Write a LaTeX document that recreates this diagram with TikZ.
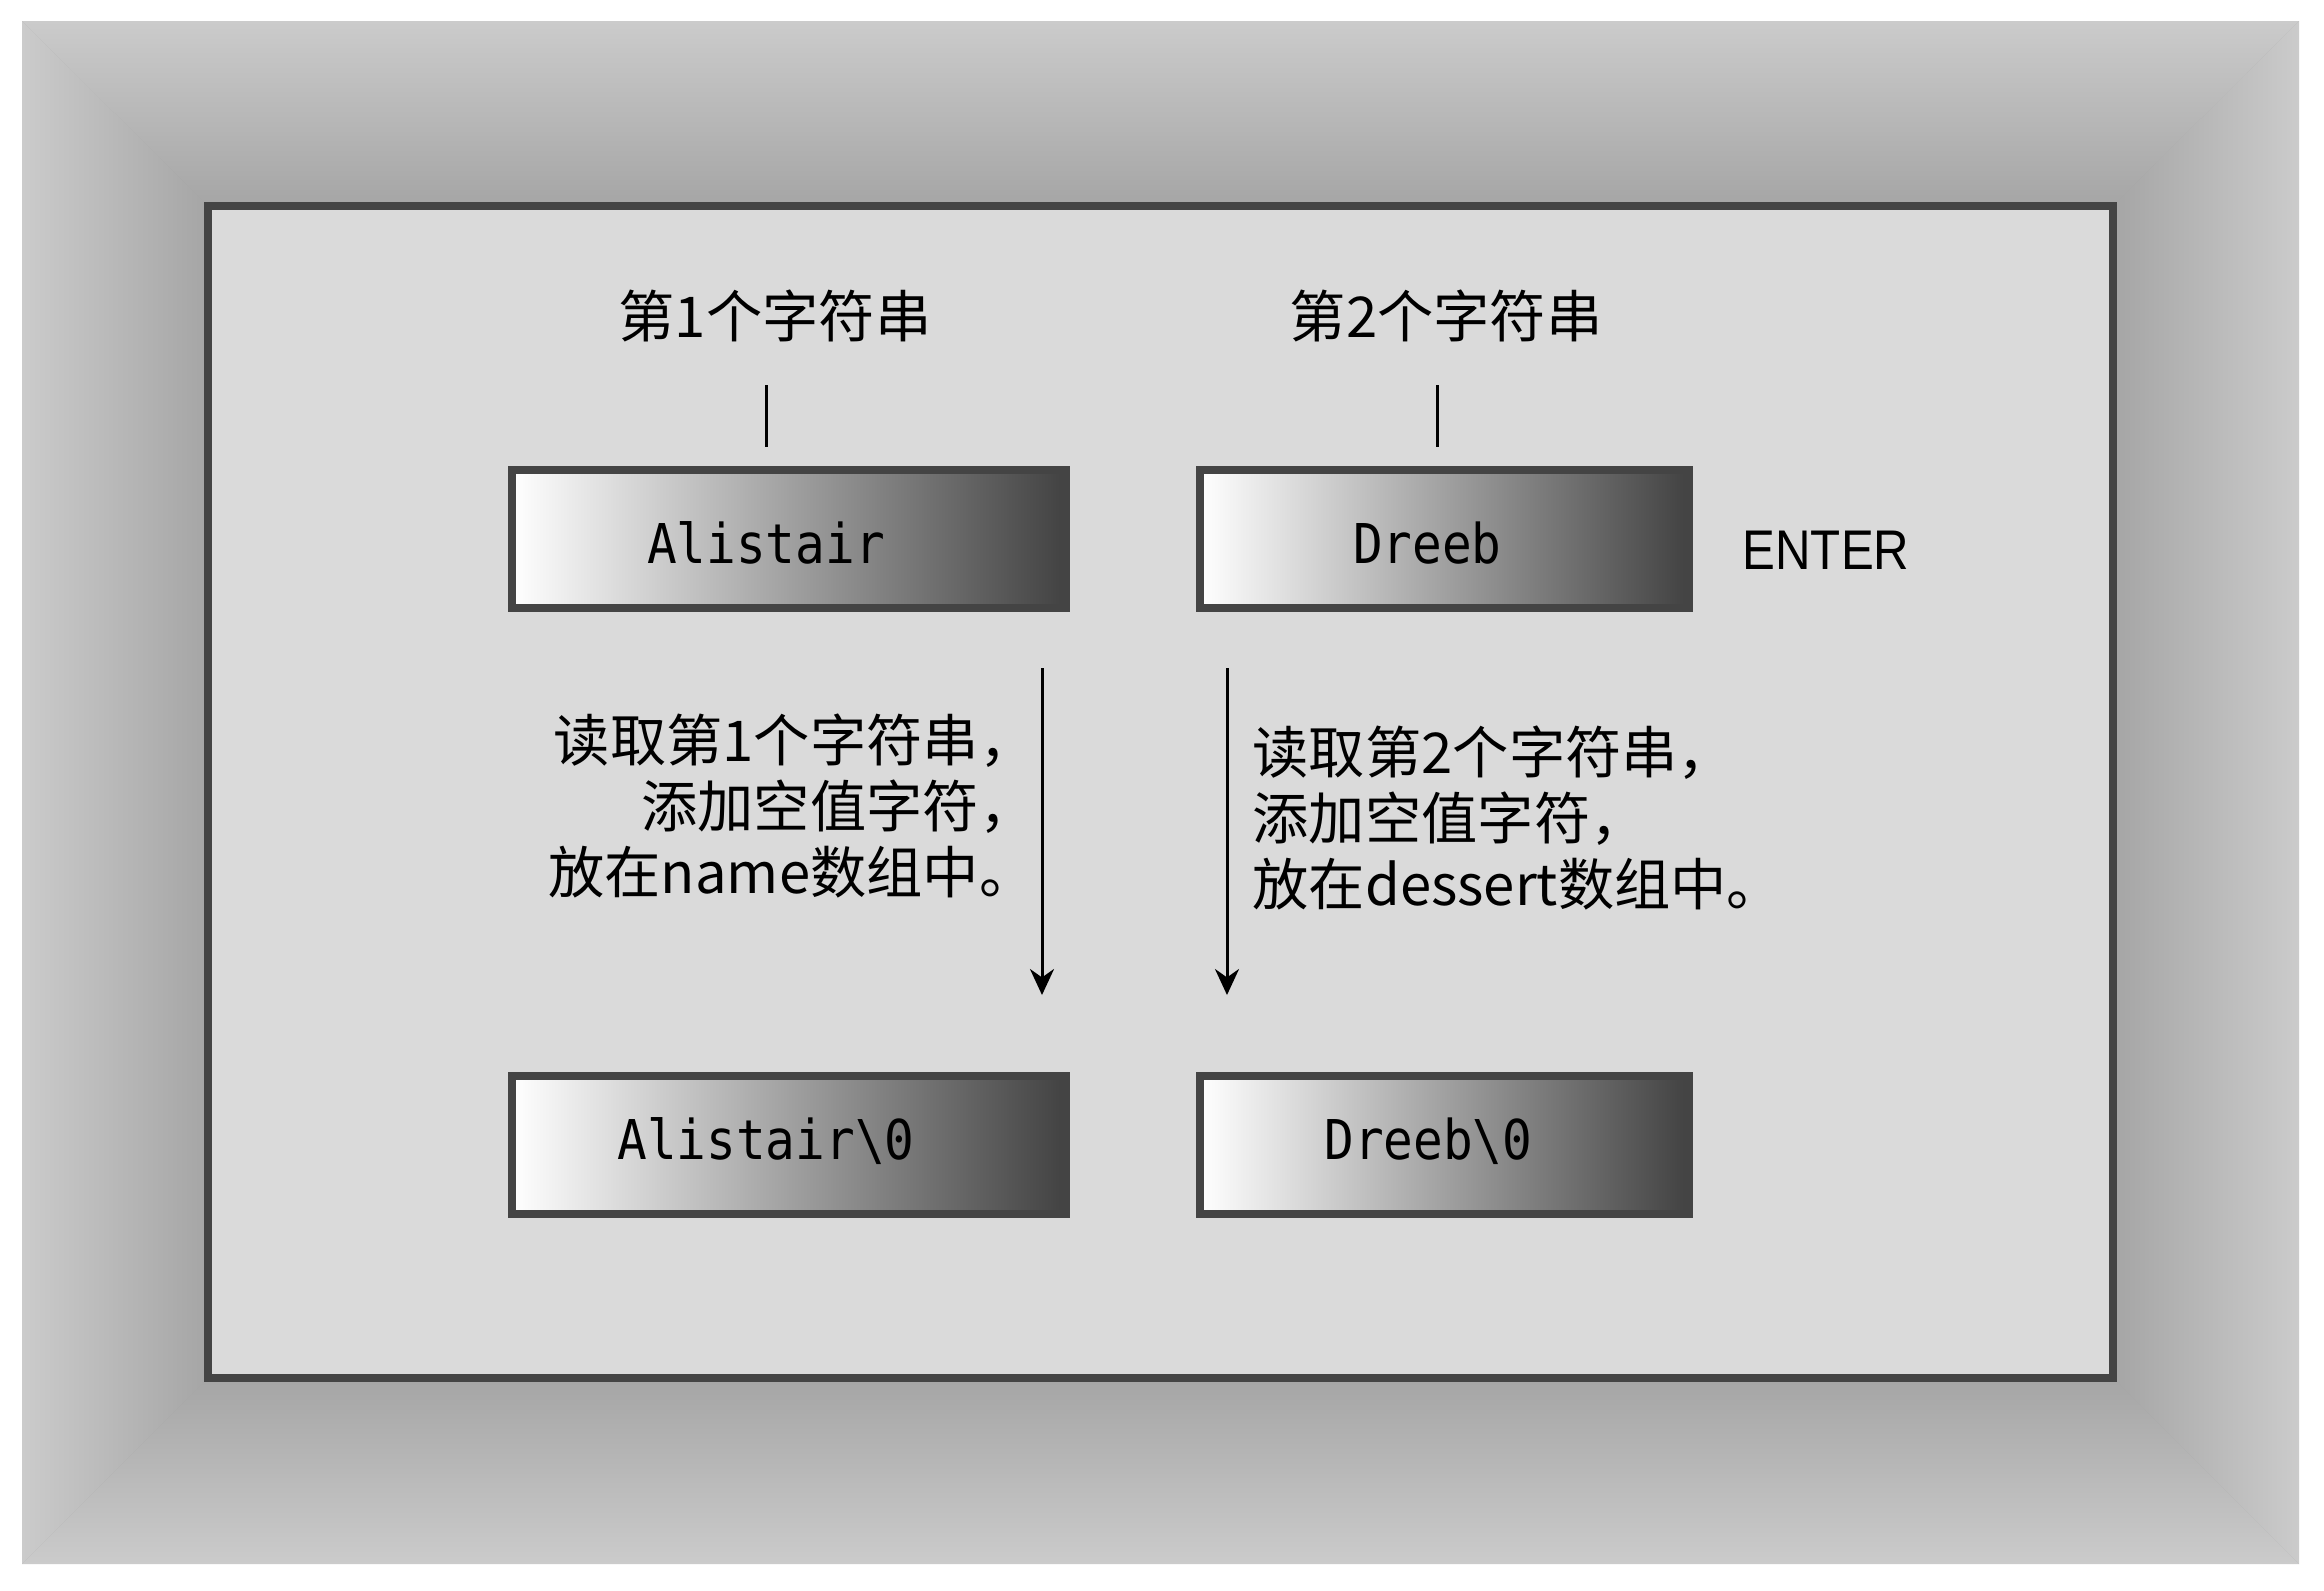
\documentclass[tikz,border=0pt]{standalone}
\usepackage{fontspec}
\newfontfamily\cjk{Noto Sans CJK SC}
\newfontfamily\codefont[FakeStretch=0.9]{DejaVu Sans Mono}
\newfontfamily\keyfont[FakeStretch=0.88]{Liberation Sans}
\usetikzlibrary{positioning}
\usetikzlibrary{arrows.meta}
\definecolor{myGray1}{RGB}{203,203,203}
\definecolor{myGray2}{RGB}{166,166,166}
\definecolor{myGray3}{RGB}{218,218,218}
\definecolor{myGray4}{RGB}{68,68,68}
\definecolor{myGray5}{RGB}{66,66,66}

\begin{document}
\begin{tikzpicture}[x=0.01cm,y=-0.01cm,
  str box/.style={rectangle,draw=myGray4,line width=0.08cm,left color=white,right color=myGray5,
  minimum height=1.38cm,inner sep=0pt},code text/.style={font=\codefont\fontsize{15.6pt}{18pt}\selectfont,
  inner sep=0pt},title text/.style={font=\cjk\fontsize{16pt}{19pt}\selectfont,inner sep=0pt},
  note text/.style={font=\cjk\fontsize{16pt}{18.7pt}\selectfont,inner sep=0pt},
  key text/.style={font=\keyfont\fontsize{15.9pt}{18pt}\selectfont,inner sep=0pt},
  tick line/.style={line width=0.03cm},read arrow/.style={line width=0.03cm,-{Stealth[length=0.26cm,width=0.24cm]}}]

\useasboundingbox (0,0) rectangle (2324,1590);
  \begin{scope}
\path[fill=myGray2] (22,21) rectangle (2299,1564);
\path[top color=myGray1,bottom color=myGray2] (22,21) -- (2299,21) -- (2117,202) -- (204,202) -- cycle;
\path[left color=myGray1,right color=myGray2] (22,21) -- (204,202) -- (204,1382) -- (22,1564) -- cycle;
\path[left color=myGray2,right color=myGray1] (2299,21) -- (2117,202) -- (2117,1382) -- (2299,1564) -- cycle;
\path[top color=myGray2,bottom color=myGray1] (22,1564) -- (204,1382) -- (2117,1382) -- (2299,1564) -- cycle;
\draw[draw=myGray4,fill=myGray3,line width=0.08cm] (208,206) rectangle (2113,1378);
  \end{scope}

% The string boxes
  \node[str box,minimum width=5.54cm] (boxA) at (789,539) {};
  \node[str box,minimum width=4.88cm] (boxB) [right =1.26cm of boxA] {};
  \node[str box,minimum width=5.54cm] (boxC) [below =4.6cm of boxA] {};
  \node[str box,minimum width=4.88cm] (boxD) [below =4.6cm of boxB] {};
  \node[code text,anchor=base] (txtA) at ([xshift=-0.23cm,yshift=-0.245cm]boxA.center) {Alistair};
  \node[code text,anchor=base] (txtB) at ([xshift=-0.17cm,yshift=-0.245cm]boxB.center) {Dreeb};
  \node[code text,anchor=base] (txtC) at ([xshift=-0.23cm,yshift=-0.14cm]boxC.center) {Alistair\textbackslash 0};
  \node[code text,anchor=base] (txtD) at ([xshift=-0.16cm,yshift=-0.14cm]boxD.center) {Dreeb\textbackslash 0};
\node[key text,anchor=base] (enter) at (1826,569) {ENTER};
% The titles and notes
\node[title text] (titleA) at (775,316) {第1个字符串};
\node[title text] (titleB) at (1446,316) {第2个字符串};
\node[note text,anchor=east,align=right] (noteA) at (1036,806) {读取第1个字符串，\\添加空值字符，\\放在name数组中。};
\node[note text,anchor=west,align=left] (noteB) at (1252,818) {读取第2个字符串，\\添加空值字符，\\放在dessert数组中。};
% The lines and arrows
\coordinate (tickAtop) at (766,385);
\coordinate (tickAbot) at (766,447);
\coordinate (tickBtop) at (1437,385);
\coordinate (tickBbot) at (1437,447);
\coordinate (readAtop) at (1042,668);
\coordinate (readAbot) at (1042,995);
\coordinate (readBtop) at (1227,668);
\coordinate (readBbot) at (1227,995);
 \draw[tick line] (tickAtop) -- (tickAbot);
 \draw[tick line] (tickBtop) -- (tickBbot);
 \draw[read arrow] (readAtop) -- (readAbot);
 \draw[read arrow] (readBtop) -- (readBbot);

\end{tikzpicture}
\end{document}
